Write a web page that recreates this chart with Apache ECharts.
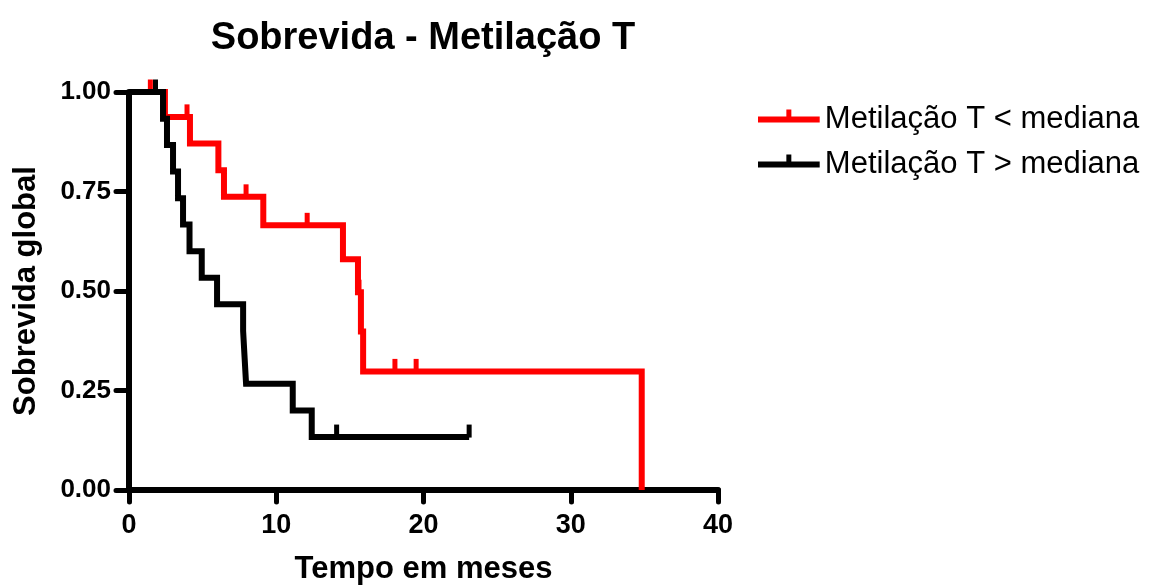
<!DOCTYPE html>
<html>
<head>
<meta charset="utf-8">
<script src="https://cdn.jsdelivr.net/npm/echarts@6/dist/echarts.min.js"></script>
<style>
html,body{margin:0;padding:0;background:#fff;}
#chart{width:1153px;height:585px;}
</style>
</head>
<body>
<div id="chart"></div>
<script>
// Kaplan-Meier step points (time in months, survival after the step)
const redName = 'Metilação T < mediana';
const blackName = 'Metilação T > mediana';

const redTimes = [0, 2.44, 4.14, 6.07, 6.45, 9.12, 14.53, 15.55, 15.75, 15.9, 34.82];
const redSurv  = [1, 0.9375, 0.8705, 0.8036, 0.7366, 0.665, 0.580, 0.497, 0.398, 0.298, 0];
const redCensorTimes = [1.45, 3.94, 7.95, 12.1, 15.62, 18.06, 19.5];
const redCensorSurv  = [1, 0.9375, 0.7366, 0.665, 0.497, 0.298, 0.298];

const blackTimes = [0, 2.31, 2.58, 2.99, 3.33, 3.67, 4.11, 4.94, 5.98, 7.75, 7.85, 7.95, 11.12, 12.41, 23.1];
const blackSurv  = [1, 0.933, 0.867, 0.8, 0.733, 0.667, 0.6, 0.533, 0.467, 0.4, 0.333, 0.267, 0.2, 0.133, 0.133];
const blackCensorTimes = [1.8, 14.1, 23.1];
const blackCensorSurv  = [1, 0.133, 0.133];

const xTicks = [0, 10, 20, 30, 40];
const yTicks = [0, 0.25, 0.5, 0.75, 1];

const zip = (a, b) => a.map((v, i) => [v, b[i]]);
const FONT = 'Liberation Sans, Arial, sans-serif';
const RED = '#ff0000';
const BLACK = '#000000';

const legendIcon = 'path://M0,12h62v6H0z M28.5,5h5v10h-5z M0,25h0.1v0.1H0z';

const chart = echarts.init(document.getElementById('chart'), null, {renderer: 'canvas'});
chart.setOption({
  animation: false,
  backgroundColor: '#ffffff',
  title: {
    text: 'Sobrevida - Metilação T',
    left: 418,
    textAlign: 'center',
    top: 15,
    textStyle: {fontFamily: FONT, fontWeight: 'bold', fontSize: 38, color: '#000'}
  },
  legend: {
    orient: 'vertical',
    left: 758,
    top: 104,
    padding: 0,
    itemWidth: 62,
    itemHeight: 20,
    itemGap: 14,
    data: [
      {name: redName, icon: legendIcon},
      {name: blackName, icon: legendIcon}
    ],
    textStyle: {fontFamily: FONT, fontSize: 31, color: '#000', lineHeight: 31},
    selectedMode: false
  },
  grid: {left: 129, right: 435, top: 92, bottom: 95, containLabel: false, outerBoundsMode: 'none'},
  xAxis: {
    type: 'value',
    min: xTicks[0],
    max: xTicks[xTicks.length - 1],
    interval: 10,
    name: 'Tempo em meses',
    nameLocation: 'middle',
    nameGap: 64,
    nameTextStyle: {fontFamily: FONT, fontWeight: 'bold', fontSize: 31, color: '#000'},
    axisLine: {show: true, lineStyle: {color: '#000', width: 6, cap: 'round'}},
    axisTick: {show: true, length: 12, lineStyle: {color: '#000', width: 5, cap: 'round'}},
    axisLabel: {fontFamily: FONT, fontWeight: 'bold', fontSize: 27, color: '#000', margin: 22},
    splitLine: {show: false}
  },
  yAxis: {
    type: 'value',
    min: yTicks[0],
    max: yTicks[yTicks.length - 1],
    interval: 0.25,
    name: 'Sobrevida global',
    nameLocation: 'middle',
    nameRotate: 90,
    nameGap: 87,
    nameTextStyle: {fontFamily: FONT, fontWeight: 'bold', fontSize: 31, color: '#000'},
    axisLine: {show: true, lineStyle: {color: '#000', width: 6, cap: 'round'}},
    axisTick: {show: true, length: 13, lineStyle: {color: '#000', width: 5, cap: 'round'}},
    axisLabel: {fontFamily: FONT, fontWeight: 'bold', fontSize: 26, color: '#000', margin: 18,
      formatter: v => v.toFixed(2)},
    splitLine: {show: false}
  },
  series: [
    {
      name: redName, type: 'line', step: 'end', data: zip(redTimes, redSurv),
      showSymbol: false, symbol: 'none', color: RED,
      lineStyle: {color: RED, width: 6, join: 'miter'}, z: 2
    },
    {
      name: 'red-censor', type: 'scatter', data: zip(redCensorTimes, redCensorSurv),
      symbol: 'rect', symbolSize: [5, 13], symbolOffset: [0, -6],
      itemStyle: {color: RED, opacity: 1}, z: 2
    },
    {
      name: blackName, type: 'line', step: 'end', data: zip(blackTimes, blackSurv),
      showSymbol: false, symbol: 'none', color: BLACK,
      lineStyle: {color: BLACK, width: 6, join: 'miter'}, z: 3
    },
    {
      name: 'black-censor', type: 'scatter', data: zip(blackCensorTimes, blackCensorSurv),
      symbol: 'rect', symbolSize: [5, 13], symbolOffset: [0, -6],
      itemStyle: {color: BLACK, opacity: 1}, z: 3
    }
  ]
});
</script>
</body>
</html>
